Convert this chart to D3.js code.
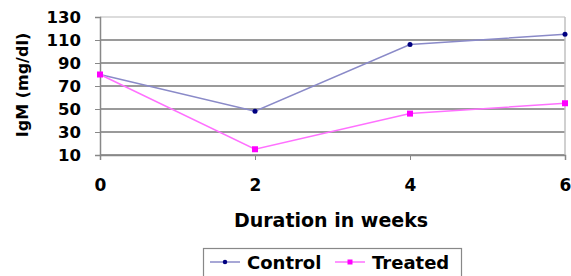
<!DOCTYPE html>
<html>
<head>
<meta charset="utf-8">
<script src="https://cdn.jsdelivr.net/npm/d3@7"></script>
<style>
  body { margin: 0; background: #fff; }
  text { font-family: "DejaVu Sans", Arial, sans-serif; font-weight: bold; fill: #000; }
</style>
</head>
<body>
<script>
// chart data
var weeks = [0, 2, 4, 6];
var control = [80, 48, 106, 115];
var treated = [80, 15, 46, 55];
var yTicks = [10, 30, 50, 70, 90, 110, 130];
var seriesNames = ['Control', 'Treated'];

var width = 571, height = 276;
var margin = {left: 100, right: 6, top: 17, bottom: 121};

var svg = d3.select('body').append('svg')
    .attr('width', width)
    .attr('height', height);

var x = d3.scaleLinear().domain([0, 6]).range([margin.left, width - margin.right]);
var y = d3.scaleLinear().domain([10, 130]).range([height - margin.bottom, margin.top]);

// gridlines
svg.append('g').selectAll('line')
    .data(yTicks)
    .enter().append('line')
    .attr('x1', x(0)).attr('x2', x(6))
    .attr('y1', function(d) { return y(d); })
    .attr('y2', function(d) { return y(d); })
    .attr('stroke', function(d) { return d == 130 ? '#d0d0d0' : '#9a9a9a'; })
    .attr('stroke-width', function(d) { return d == 130 ? 1.5 : 2; });

// right border of plot area
svg.append('line')
    .attr('x1', x(6)).attr('x2', x(6))
    .attr('y1', y(130)).attr('y2', y(10))
    .attr('stroke', '#c0c0c0').attr('stroke-width', 1.5);

// y axis
var yAxis = svg.append('g')
    .attr('transform', 'translate(' + x(0) + ',0)')
    .call(d3.axisLeft(y).tickValues(yTicks).tickSize(5).tickPadding(14));
yAxis.select('.domain').attr('stroke', '#888').attr('stroke-width', 1.5);
yAxis.selectAll('.tick line').attr('stroke', '#888');
yAxis.selectAll('text').style('font-size', '16.5px').attr('font-family', null).attr('fill', '#000');

// x axis
var xAxis = svg.append('g')
    .attr('transform', 'translate(0,' + y(10) + ')')
    .call(d3.axisBottom(x).tickValues(weeks).tickFormat(d3.format('d')).tickSize(5).tickPadding(19));
xAxis.select('.domain').attr('stroke', '#888').attr('stroke-width', 1.5);
xAxis.selectAll('.tick line').attr('stroke', '#888');
xAxis.selectAll('text').style('font-size', '17px').attr('font-family', null).attr('fill', '#000');

// axis titles
svg.append('text')
    .attr('x', 331).attr('y', 227)
    .attr('text-anchor', 'middle')
    .style('font-size', '19px')
    .text('Duration in weeks');

svg.append('text')
    .attr('transform', 'translate(28,85) rotate(-90)')
    .attr('text-anchor', 'middle')
    .style('font-size', '16px')
    .text('IgM (mg/dl)');

// lines
var line = d3.line()
    .x(function(d, i) { return x(weeks[i]); })
    .y(function(d) { return y(d); });

svg.append('path').datum(control)
    .attr('d', line).attr('fill', 'none')
    .attr('stroke', '#8a8ac8').attr('stroke-width', 1.5);
svg.append('path').datum(treated)
    .attr('d', line).attr('fill', 'none')
    .attr('stroke', '#ff70ff').attr('stroke-width', 1.5);

// markers
svg.append('g').selectAll('circle')
    .data(control)
    .enter().append('circle')
    .attr('cx', function(d, i) { return x(weeks[i]); })
    .attr('cy', function(d) { return y(d); })
    .attr('r', 2.5)
    .attr('fill', '#000080');
svg.append('g').selectAll('rect')
    .data(treated)
    .enter().append('rect')
    .attr('x', function(d, i) { return x(weeks[i]) - 3; })
    .attr('y', function(d) { return y(d) - 3; })
    .attr('width', 6).attr('height', 6)
    .attr('fill', '#ff00ff');

// legend
var legend = svg.append('g');
legend.append('rect')
    .attr('x', 203.5).attr('y', 248.5)
    .attr('width', 258).attr('height', 32)
    .attr('fill', '#fff').attr('stroke', '#888').attr('stroke-width', 1.2);

var lg = legend.selectAll('g')
    .data(seriesNames)
    .enter().append('g')
    .attr('transform', function(d, i) { return 'translate(' + (210 + i * 125) + ',262)'; });
lg.append('line')
    .attr('x1', 0).attr('x2', 30)
    .attr('stroke', function(d, i) { return i == 0 ? '#8a8ac8' : '#ff70ff'; })
    .attr('stroke-width', 1.5);
lg.append('path')
    .attr('d', function(d, i) { return d3.symbol().type(i == 0 ? d3.symbolCircle : d3.symbolSquare).size(i == 0 ? 16 : 25)(); })
    .attr('transform', 'translate(15,0)')
    .attr('fill', function(d, i) { return i == 0 ? '#000080' : '#ff00ff'; });
lg.append('text')
    .attr('x', 37).attr('y', 6.5)
    .style('font-size', '18px')
    .text(function(d) { return d; });
</script>
</body>
</html>
